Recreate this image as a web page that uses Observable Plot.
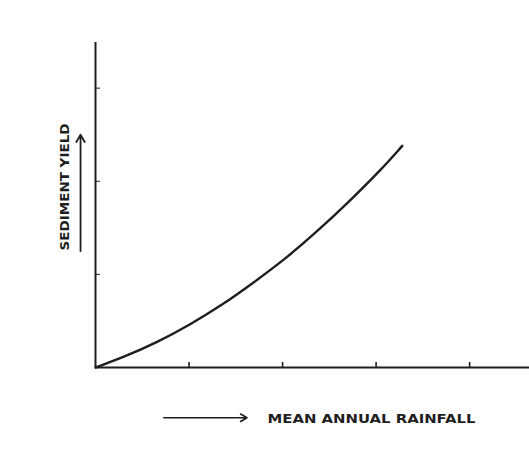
<!DOCTYPE html>
<html>
<head>
<meta charset="utf-8">
<script src="https://cdn.jsdelivr.net/npm/d3@7"></script>
<script src="https://cdn.jsdelivr.net/npm/@observablehq/plot@0.6"></script>
<style>
  html, body { margin: 0; padding: 0; background: #fff; }
</style>
</head>
<body>
<div id="chart"></div>
<script>
// Mean annual rainfall (arbitrary units) vs sediment yield (arbitrary units)
const rainfall = [0, 0.30, 0.66, 1.01, 1.37, 1.70, 2.01, 2.37, 2.72, 3.05, 3.28];
const sediment = [0, 0.11, 0.27, 0.46, 0.68, 0.92, 1.15, 1.46, 1.79, 2.12, 2.38];
const xTicks = [1, 2, 3, 4];
const yTicks = [1, 2, 3];
const xLabel = "MEAN ANNUAL RAINFALL";
const yLabel = "SEDIMENT YIELD";

const curve = rainfall.map((r, i) => ({rainfall: r, sediment: sediment[i]}));
const ink = "#1e1e1e";

const chart = Plot.plot({
  width: 529,
  height: 454,
  marginLeft: 95,
  marginRight: 0,
  marginTop: 42,
  marginBottom: 87,
  style: {background: "#fff", color: ink},
  x: {domain: [0, 4.64], label: null},
  y: {domain: [0, 3.49], label: null},
  marks: [
    Plot.axisX({ticks: xTicks, tickSize: -5, tickFormat: () => "", stroke: ink, strokeWidth: 1.6}),
    Plot.axisY({ticks: yTicks, tickSize: -5, tickFormat: () => "", stroke: ink, strokeWidth: 1}),
    Plot.ruleY([0], {stroke: ink, strokeWidth: 2}),
    Plot.ruleX([0], {stroke: ink, strokeWidth: 2}),
    Plot.line(curve, {x: "rainfall", y: "sediment", curve: "basis", stroke: ink, strokeWidth: 2.4}),
    // axis titles with arrows
    Plot.text([xLabel], {frameAnchor: "bottom-left", dx: 172, dy: 52, text: d => d, fontSize: 12, fontWeight: "bold", fill: ink, textAnchor: "start", lineAnchor: "middle", fontFamily: "DejaVu Sans"}),
    Plot.text([yLabel], {frameAnchor: "left", dx: -30, dy: -18, rotate: -90, text: d => d, fontSize: 12, fontWeight: "bold", fill: ink, textAnchor: "middle", lineAnchor: "middle", fontFamily: "DejaVu Sans"}),
    Plot.arrow([{x1: 0.73, x2: 1.62, y: -0.54}], {x1: "x1", x2: "x2", y1: "y", y2: "y", stroke: ink, strokeWidth: 1.6, headLength: 7, bend: 0}),
    Plot.arrow([{x: -0.16, y1: 1.25, y2: 2.5}], {x1: "x", x2: "x", y1: "y1", y2: "y2", stroke: ink, strokeWidth: 1.8, headLength: 7, bend: 0})
  ]
});

// stretch the titles to the reference's lengths
d3.select(chart).selectAll("text").each(function() {
  const t = this.textContent;
  if (t === xLabel) { this.setAttribute("textLength", 208); this.setAttribute("lengthAdjust", "spacingAndGlyphs"); }
  if (t === yLabel) { this.setAttribute("textLength", 127); this.setAttribute("lengthAdjust", "spacingAndGlyphs"); }
});

document.getElementById("chart").appendChild(chart);
</script>
</body>
</html>
